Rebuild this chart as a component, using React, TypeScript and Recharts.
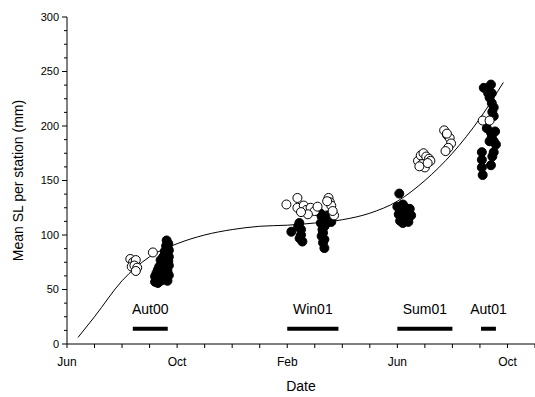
import {
  ComposedChart,
  Line,
  ReferenceDot,
  ReferenceLine,
  Scatter,
  XAxis,
  YAxis,
} from 'recharts';

// x = months since 1 Jun 2000, y = mean SL (mm)
const MONTH_TICKS = [0, 1, 2, 3, 4, 5, 6, 7, 8, 9, 10, 11, 12, 13, 14, 15, 16, 17];
const MONTH_LABELS: Record<number, string> = { 0: 'Jun', 4: 'Oct', 8: 'Feb', 12: 'Jun', 16: 'Oct' };
const Y_TICKS = [
  0, 12.5, 25, 37.5, 50, 62.5, 75, 87.5, 100, 112.5, 125, 137.5, 150, 162.5, 175, 187.5, 200,
  212.5, 225, 237.5, 250, 262.5, 275, 287.5, 300,
];

const fitCurve = [
  [0.4, 6], [1, 25], [2, 58], [3, 80], [4, 92], [5, 100], [6, 105], [7, 108], [8, 109],
  [9, 111], [10, 114], [11, 120], [12, 131], [13, 150], [14, 175], [15, 207], [15.85, 240],
];

const aut00Open = [[2.3, 78], [2.4, 75], [2.5, 77], [2.35, 71], [2.45, 72], [2.55, 70], [2.5, 67], [3.12, 84]];
const aut00Closed = [
  [3.62, 95], [3.68, 92], [3.6, 90], [3.66, 88], [3.7, 86], [3.55, 85], [3.65, 83], [3.7, 80], [3.5, 80],
  [3.6, 78], [3.4, 77], [3.68, 76], [3.55, 74], [3.45, 73], [3.7, 72], [3.35, 71], [3.6, 70], [3.5, 69],
  [3.3, 68], [3.65, 67], [3.4, 66], [3.25, 65], [3.55, 64], [3.7, 63], [3.2, 62], [3.45, 62], [3.6, 61],
  [3.3, 60], [3.5, 59], [3.2, 57], [3.4, 58], [3.65, 58], [3.3, 56],
];

const win01Open = [
  [7.97, 128], [8.37, 134], [8.37, 125], [8.6, 127], [8.7, 123], [8.85, 125], [9.0, 122], [9.1, 126],
  [8.75, 119], [8.5, 121], [9.5, 134], [9.55, 130], [9.6, 127], [9.7, 118], [9.65, 122], [9.45, 131],
];
const win01Closed = [
  [8.15, 103], [8.44, 111], [8.5, 105], [8.5, 100], [8.45, 97], [8.55, 94], [8.4, 108], [9.2, 120],
  [9.25, 117], [9.3, 114], [9.22, 111], [9.35, 108], [9.28, 105], [9.3, 102], [9.25, 99], [9.35, 96],
  [9.3, 93], [9.45, 118], [9.5, 114], [9.4, 110], [9.35, 88], [9.6, 112],
];

const sum01Open = [
  [12.75, 168], [12.85, 173], [12.95, 175], [13.05, 172], [12.9, 165], [13.0, 162], [13.15, 170],
  [13.2, 168], [12.8, 163], [13.1, 166], [13.7, 196], [13.8, 192], [13.9, 189], [13.95, 184],
  [13.85, 180], [13.75, 177], [13.8, 193],
];
const sum01Closed = [
  [12.07, 138], [12.0, 126], [12.1, 122], [12.2, 128], [12.3, 125], [12.15, 118], [12.35, 120],
  [12.45, 124], [12.25, 115], [12.1, 113], [12.4, 112], [12.5, 118], [12.2, 111], [12.05, 119],
];

const aut01Open = [[15.1, 205], [15.35, 205]];
const aut01Closed = [
  [15.14, 235], [15.4, 238], [15.3, 233], [15.43, 230], [15.35, 226], [15.43, 221], [15.5, 217],
  [15.45, 213], [15.5, 209], [15.25, 198], [15.4, 194], [15.43, 190], [15.5, 186], [15.58, 183],
  [15.35, 186], [15.07, 176], [15.5, 176], [15.07, 169], [15.4, 164], [15.07, 162], [15.1, 155],
  [15.45, 172], [15.55, 195], [15.3, 230],
];

const seasonNames = ['Aut00', 'Win01', 'Sum01', 'Aut01'];
const seasonStart = [2.39, 8.0, 12.0, 15.04];
const seasonEnd = [3.66, 9.86, 14.0, 15.58];
const SEASON_BAR_Y = 14;
const SEASON_LABEL_Y = 32;

const toPts = (arr: number[][]) => arr.map(([x, y]) => ({ x, y }));

const FONT = '"Liberation Sans", Arial, sans-serif';

function YTick(props: any) {
  const { x, y, payload } = props;
  const v = payload.value;
  const major = v % 50 === 0;
  return (
    <g>
      <line x1={major ? x - 5 : x - 3} x2={x} y1={y} y2={y} stroke="#000" />
      {major && (
        <text x={x - 8} y={y} dy="0.35em" textAnchor="end" fontSize={11} fontFamily={FONT} fill="#000">
          {v}
        </text>
      )}
    </g>
  );
}

const openDot = (p: any) => <circle cx={p.cx} cy={p.cy} r={4.5} fill="#fff" stroke="#000" strokeWidth={1} />;
const closedDot = (p: any) => <circle cx={p.cx} cy={p.cy} r={4.5} fill="#000" stroke="#000" strokeWidth={1} />;

export default function App() {
  const closed = [...aut00Closed, ...win01Closed, ...sum01Closed, ...aut01Closed];
  const open = [...aut00Open, ...win01Open, ...sum01Open, ...aut01Open];

  return (
    <div style={{ position: 'absolute', left: 0, top: 0, background: '#fff', fontFamily: FONT }}>
      <ComposedChart width={535} height={397} margin={{ top: 17, right: 0, bottom: 0, left: 0 }}>
        <XAxis
          type="number"
          dataKey="x"
          domain={[0, 17]}
          ticks={MONTH_TICKS}
          tickFormatter={(v: number) => MONTH_LABELS[v] ?? ''}
          interval={0}
          height={53}
          tickSize={4}
          tickMargin={9}
          stroke="#000"
          tick={{ fontSize: 12, fill: '#000', fontFamily: FONT }}
          label={{ value: 'Date', position: 'insideBottom', offset: 6, fontSize: 14, fill: '#000', fontFamily: FONT }}
        />
        <YAxis
          type="number"
          dataKey="y"
          domain={[0, 300]}
          ticks={Y_TICKS}
          interval={0}
          width={67}
          tickSize={0}
          tickMargin={0}
          tickLine={false}
          stroke="#000"
          tick={<YTick />}
          label={{
            value: 'Mean SL per station (mm)',
            angle: -90,
            position: 'insideLeft',
            offset: 18,
            style: { textAnchor: 'middle' },
            fontSize: 14,
            fill: '#000',
            fontFamily: FONT,
          }}
        />
        <Line
          data={toPts(fitCurve)}
          dataKey="y"
          type="monotone"
          stroke="#000"
          strokeWidth={1}
          dot={false}
          isAnimationActive={false}
        />
        <Scatter data={toPts(closed)} shape={closedDot} isAnimationActive={false} />
        <Scatter data={toPts(open)} shape={openDot} isAnimationActive={false} />
        {seasonNames.map((name, i) => (
          <ReferenceLine
            key={name}
            segment={[
              { x: seasonStart[i], y: SEASON_BAR_Y },
              { x: seasonEnd[i], y: SEASON_BAR_Y },
            ]}
            stroke="#000"
            strokeWidth={4}
          />
        ))}
        {seasonNames.map((name, i) => (
          <ReferenceDot
            key={`l-${name}`}
            x={(seasonStart[i] + seasonEnd[i]) / 2}
            y={SEASON_LABEL_Y}
            r={0}
            stroke="none"
            label={{ value: name, position: 'center', fontSize: 14, fill: '#000', fontFamily: FONT }}
          />
        ))}
      </ComposedChart>
    </div>
  );
}
